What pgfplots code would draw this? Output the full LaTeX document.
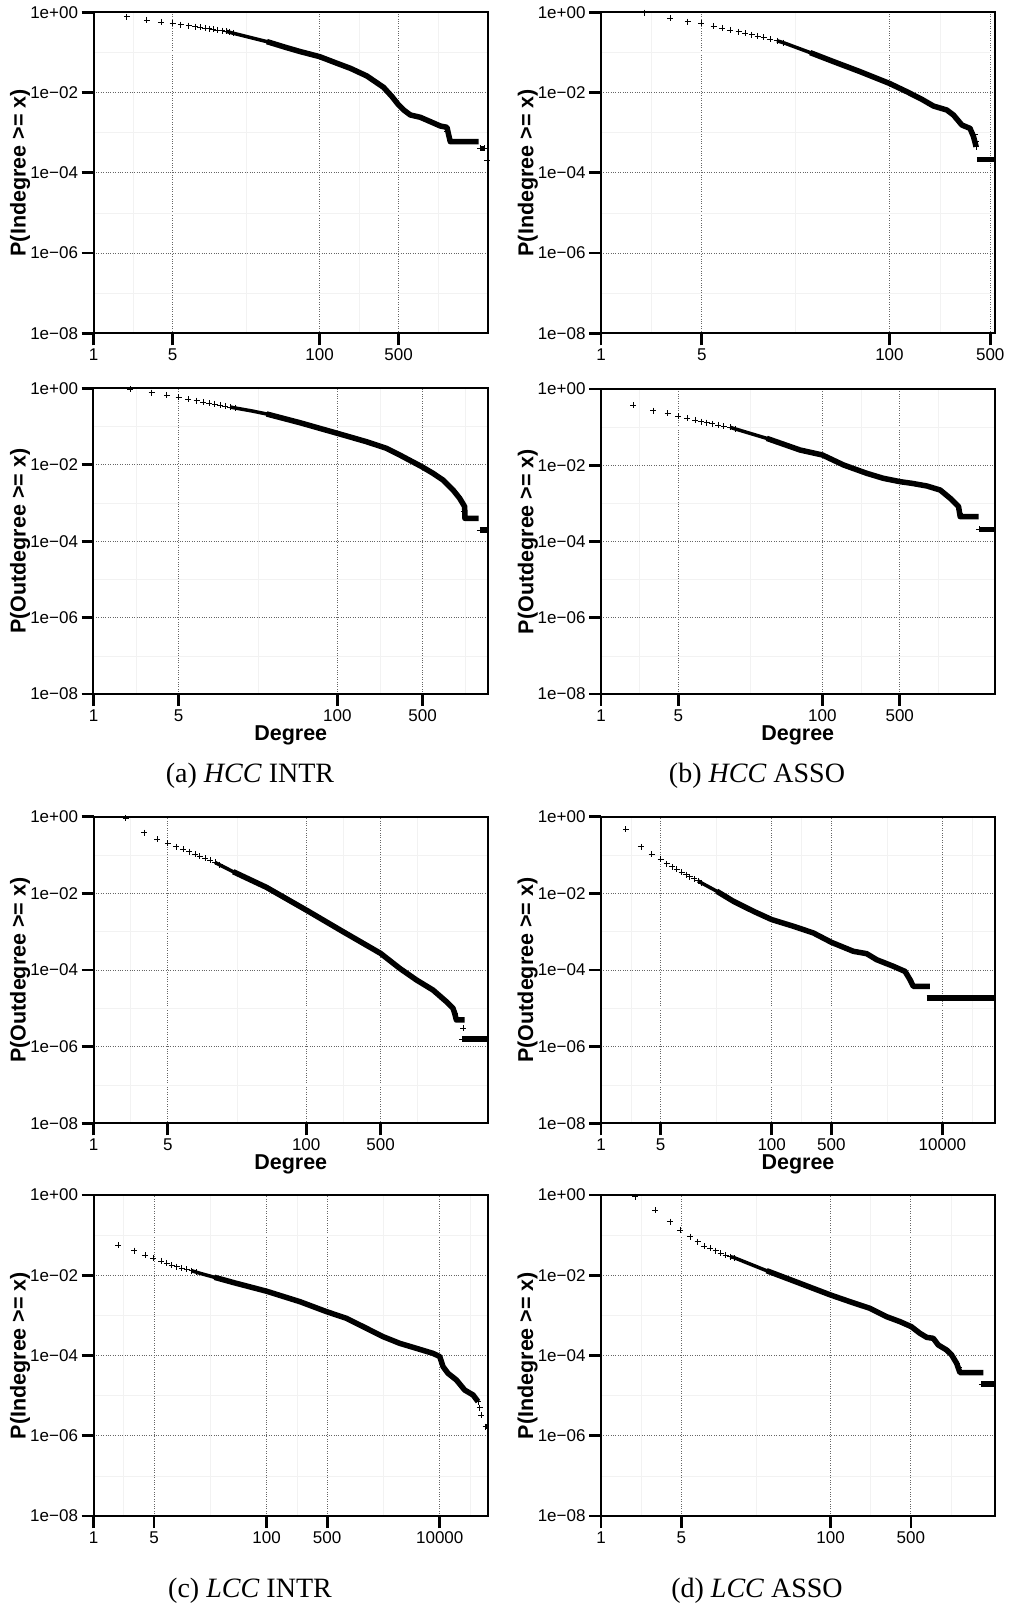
\documentclass[border=0pt]{standalone}
\usepackage{pgfplots}
\pgfplotsset{compat=1.18}
\usepackage{fontspec}
\setmainfont{Liberation Sans}
\newfontfamily\capfont{Liberation Serif}
\newcommand\tickfont{\fontsize{17}{19}\selectfont}
\newcommand\labfont{\fontsize{21.5}{24}\selectfont\bfseries}
\newcommand\cfont{\capfont\fontsize{28}{31}\selectfont}

\pgfplotsset{
  dgpanel/.style={
    scale only axis,
    xmin=1, ymin=1e-8, ymax=1,
    ytick={1,1e-2,1e-4,1e-6,1e-8},
    yticklabels={1e+00,1e−02,1e−04,1e−06,1e−08},
    minor ytick={1e-1,1e-3,1e-5,1e-7},
    tick align=outside,
    xtick pos=left, ytick pos=left,
    major tick length=12pt,
    minor tick length=0pt,
    tick style={line width=2.8pt, black},
    major tick style={line width=2.8pt, black},
    axis line style={line width=2pt, black},
    grid=both,
    major grid style={dotted, line width=0.9pt, black!60},
    minor grid style={line width=0.6pt, black!5},
    ticklabel style={font=\tickfont},
    ylabel style={font=\labfont, at={(axis description cs:-0.186,0.5)}, anchor=center},
    xlabel style={font=\labfont, at={(axis description cs:0.5,-0.134)}, anchor=center},
  },
  dgsparse/.style={only marks, mark=+, mark size=3pt, black, mark options={line width=0.9pt}},
  dgearly/.style={no marks, black, line width=3.5pt, line join=round},
  dgdense/.style={no marks, black, line width=5.5pt, line join=round},
}

\begin{document}
\begin{tikzpicture}
\useasboundingbox (0,0) rectangle (1009pt,-1606pt);

% ---------- (a) top: HCC INTR indegree
\begin{loglogaxis}[dgpanel, at={(93.5pt,-333.3pt)}, anchor=south west, width=394.5pt, height=321pt,
  xmax=3090, xtick={1,5,100,500}, xticklabels={1,5,100,500},
  minor xtick={2.236,22.36,223.6,1118}, ylabel={P(Indegree >= x)}]
\addplot[dgsparse] coordinates {(1.97,0.78) (2.96,0.644) (3.97,0.574) (5,0.532) (5.93,0.493) (6.98,0.466) (7.94,0.44) (8.79,0.423) (9.73,0.407) (10.6,0.392) (11.5,0.377) (12.5,0.363) (13.7,0.349) (14.9,0.336) (16.1,0.322) (17.3,0.306)};
\addplot[dgearly] coordinates {(14.9,0.336) (17.3,0.3) (25,0.232) (34.2,0.186) (50,0.134)};
\addplot[dgdense] coordinates {(34.2,0.186) (50,0.134) (67.4,0.105) (100,0.0786) (140,0.0547) (187,0.0403) (262,0.0259) (368,0.0135) (437,0.00794) (500,0.00491) (560,0.0036) (634,0.00277) (778,0.00242) (953,0.00189) (1169,0.00147) (1340,0.00136) (1387,0.00088) (1433,0.000599) (2553,0.000599)};
\addplot[dgdense] coordinates {(2642,0.000408) (2866,0.000408)};
\addplot[dgsparse] coordinates {(1345,0.0011) (2642,0.000408) (2866,0.000408) (3027,0.000201)};
\end{loglogaxis}

% ---------- (b) top: HCC ASSO indegree
\begin{loglogaxis}[dgpanel, at={(601pt,-333.3pt)}, anchor=south west, width=393.5pt, height=321pt,
  xmax=535, xtick={1,5,100,500}, xticklabels={1,5,100,500},
  minor xtick={2.236,22.36,223.6}, ylabel={P(Indegree >= x)}]
\addplot[dgsparse] coordinates {(1.99,0.975) (3.02,0.708) (4.0,0.585) (4.96,0.532) (6.04,0.456) (6.9,0.407) (7.87,0.363) (9,0.33) (10,0.299) (11.1,0.277) (12.2,0.257) (13.4,0.238) (14.9,0.216) (16.6,0.196) (18.4,0.176)};
\addplot[dgearly] coordinates {(16.6,0.196) (18.9,0.169) (28.2,0.099) (41,0.0589)};
\addplot[dgdense] coordinates {(28.2,0.099) (41,0.0589) (62.7,0.0331) (100,0.0169) (132,0.0105) (168,0.00676) (202,0.00461) (250,0.00367) (278,0.00275) (318,0.00155) (362,0.00128) (383,0.00079) (399,0.000447)};
\addplot[dgdense] coordinates {(404,0.000216) (545,0.000216)};
\addplot[dgsparse] coordinates {(390,0.0009) (396,0.0006) (399,0.000447)};
\end{loglogaxis}

% ---------- (a) bottom: HCC INTR outdegree
\begin{loglogaxis}[dgpanel, at={(93.5pt,-694pt)}, anchor=south west, width=394.5pt, height=305.7pt,
  xmax=1722, xtick={1,5,100,500}, xticklabels={1,5,100,500},
  minor xtick={2.236,22.36,223.6,1118}, ylabel={P(Outdegree >= x)}, xlabel={Degree}]
\addplot[dgsparse] coordinates {(2,0.94) (3,0.77) (4,0.669) (5,0.581) (6,0.515) (7.03,0.475) (7.96,0.439) (8.9,0.405) (9.9,0.389) (10.9,0.366) (12,0.345) (13.2,0.325) (14.5,0.31)};
\addplot[dgearly] coordinates {(13.2,0.325) (14,0.312) (20,0.255) (26.3,0.213) (49.3,0.126)};
\addplot[dgdense] coordinates {(26.3,0.213) (49.3,0.126) (100,0.0664) (173,0.0402) (253,0.0269) (325,0.018) (493,0.0089) (610,0.00596) (736,0.00398) (890,0.00218) (1009,0.00132) (1109,0.000798) (1112,0.000395) (1440,0.000395)};
\addplot[dgdense] coordinates {(1480,0.000195) (1760,0.000195)};
\addplot[dgsparse] coordinates {(1100,0.0006) (1480,0.000195)};
\end{loglogaxis}

% ---------- (b) bottom: HCC ASSO outdegree
\begin{loglogaxis}[dgpanel, at={(601pt,-694pt)}, anchor=south west, width=393.5pt, height=305pt,
  xmax=3590, xtick={1,5,100,500}, xticklabels={1,5,100,500},
  minor xtick={2.236,22.36,223.6,1118}, ylabel={P(Outdegree >= x)}, xlabel={Degree}]
\addplot[dgsparse] coordinates {(1.96,0.38) (2.97,0.27) (4,0.23) (5,0.196) (6.03,0.17) (7.07,0.154) (8,0.139) (9,0.131) (10.1,0.123) (11.5,0.114) (12.9,0.107) (14.7,0.0988) (16.5,0.09)};
\addplot[dgearly] coordinates {(14.7,0.0988) (15.7,0.093) (31.4,0.0508) (62.9,0.0251)};
\addplot[dgdense] coordinates {(31.4,0.0508) (62.9,0.0251) (100,0.0186) (155,0.0102) (252,0.00614) (356,0.00454) (504,0.00371) (643,0.00336) (879,0.00286) (1160,0.00224) (1428,0.00136) (1700,0.00082) (1758,0.000449) (2574,0.000449)};
\addplot[dgdense] coordinates {(2600,0.000209) (3700,0.000209)};
\addplot[dgsparse] coordinates {(1720,0.0007) (1750,0.00055) (2600,0.000209)};
\end{loglogaxis}

% ---------- (c) top: LCC INTR outdegree
\begin{loglogaxis}[dgpanel, at={(93.5pt,-1123.3pt)}, anchor=south west, width=394.5pt, height=306.6pt,
  xmax=5117, xtick={1,5,100,500}, xticklabels={1,5,100,500},
  minor xtick={2.236,22.36,223.6,1118}, ylabel={P(Outdegree >= x)}, xlabel={Degree}]
\addplot[dgsparse] coordinates {(2,0.92) (2.99,0.383) (3.99,0.256) (5,0.201) (5.97,0.165) (7,0.141) (7.96,0.122) (9,0.106) (10,0.0942) (11.2,0.0835) (12.5,0.0741) (13.9,0.0644) (15.3,0.056)};
\addplot[dgearly] coordinates {(13.9,0.0644) (14.4,0.0606) (20.6,0.0367) (42.4,0.0143)};
\addplot[dgdense] coordinates {(20.6,0.0367) (42.4,0.0143) (100,0.00367) (222,0.001) (500,0.000272) (759,0.00011) (1087,5.5e-5) (1557,3.0e-5) (2080,1.49e-5) (2400,1.0e-5) (2490,7.4e-6) (2580,4.97e-6) (3090,4.97e-6)};
\addplot[dgdense] coordinates {(2940,1.58e-6) (5300,1.58e-6)};
\addplot[dgsparse] coordinates {(2400,1.0e-5) (2490,7.4e-6) (2980,3.0e-6) (2940,1.58e-6)};
\end{loglogaxis}

% ---------- (d) top: LCC ASSO outdegree
\begin{loglogaxis}[dgpanel, at={(601pt,-1123.3pt)}, anchor=south west, width=394pt, height=306.6pt,
  xmax=41400, xtick={1,5,100,500,10000}, xticklabels={1,5,100,500,10000},
  minor xtick={2.236,22.36,223.6,2236,22360}, ylabel={P(Outdegree >= x)}, xlabel={Degree}]
\addplot[dgsparse] coordinates {(1.96,0.467) (2.94,0.164) (3.92,0.104) (5,0.0767) (5.88,0.059) (6.85,0.0493) (7.7,0.042) (8.8,0.0357) (9.9,0.031) (11,0.027) (12.3,0.0239) (13.7,0.0212) (15.2,0.0187)};
\addplot[dgearly] coordinates {(13.7,0.0212) (14.5,0.0196) (22.7,0.0114) (35.5,0.00624)};
\addplot[dgdense] coordinates {(22.7,0.0114) (35.5,0.00624) (61,0.00342) (100,0.00207) (179,0.00139) (308,0.000927) (500,0.000529) (905,0.000308) (1298,0.000267) (1698,0.000186) (2666,0.000125) (3653,9.2e-5) (4180,5.6e-5) (4570,3.74e-5) (7160,3.74e-5)};
\addplot[dgdense] coordinates {(6550,1.85e-5) (43000,1.85e-5)};
\end{loglogaxis}

% ---------- (c) bottom: LCC INTR indegree
\begin{loglogaxis}[dgpanel, at={(93.5pt,-1516pt)}, anchor=south west, width=394.5pt, height=321pt,
  xmax=36100, xtick={1,5,100,500,10000}, xticklabels={1,5,100,500,10000},
  minor xtick={2.236,22.36,223.6,2236,22360}, ylabel={P(Indegree >= x)}]
\addplot[dgsparse] coordinates {(1.94,0.0568) (2.97,0.041) (3.95,0.032) (4.92,0.0264) (6.04,0.0227) (7,0.0198) (8,0.018) (9.2,0.0164) (10.5,0.0152) (11.9,0.0141) (13.6,0.013) (15.3,0.012)};
\addplot[dgearly] coordinates {(13.6,0.013) (17,0.0112) (41.2,0.0066)};
\addplot[dgdense] coordinates {(25,0.0089) (41.2,0.0066) (100,0.0040) (242,0.0022) (492,0.00124) (837,0.000845) (1426,0.000476) (2218,0.000295) (3453,0.000201) (5380,0.000151) (8380,0.000113) (10000,9.4e-5) (10920,5.28e-5) (12470,3.6e-5) (15570,2.46e-5) (19410,1.38e-5) (24250,1.04e-5) (27700,7.1e-6)};
\addplot[dgdense] coordinates {(33600,1.69e-6) (37000,1.69e-6)};
\addplot[dgsparse] coordinates {(27700,7.1e-6) (29000,5.0e-6) (30270,3.3e-6) (33960,1.69e-6)};
\end{loglogaxis}

% ---------- (d) bottom: LCC ASSO indegree
\begin{loglogaxis}[dgpanel, at={(601pt,-1516pt)}, anchor=south west, width=394pt, height=321pt,
  xmax=2700, xtick={1,5,100,500}, xticklabels={1,5,100,500},
  minor xtick={2.236,22.36,223.6,1118}, ylabel={P(Indegree >= x)}]
\addplot[dgsparse] coordinates {(1.98,0.91) (2.95,0.423) (3.99,0.217) (4.91,0.134) (5.96,0.0916) (6.95,0.0688) (7.89,0.0536) (8.9,0.0469) (9.97,0.041) (11,0.0352) (12.2,0.0314) (13.3,0.029) (14.6,0.0265)};
\addplot[dgearly] coordinates {(13.3,0.029) (14.2,0.028) (27.7,0.013) (54.1,0.00629)};
\addplot[dgdense] coordinates {(27.7,0.013) (54.1,0.00629) (100,0.00322) (147,0.0022) (220,0.0015) (307,0.000929) (402,0.000698) (504,0.000524) (600,0.000357) (686,0.000284) (783,0.000268) (866,0.000183) (1024,0.000137) (1132,0.000103) (1251,6.4e-5) (1337,3.74e-5) (2135,3.74e-5)};
\addplot[dgdense] coordinates {(2070,1.95e-5) (2800,1.95e-5)};
\addplot[dgsparse] coordinates {(1251,6.4e-5) (1300,5.0e-5) (2070,1.95e-5)};
\end{loglogaxis}

% ---------- captions
\node[anchor=base, font=\cfont] at (250pt,-782pt) {(a) \textit{HCC} INTR};
\node[anchor=base, font=\cfont] at (757pt,-782pt) {(b) \textit{HCC} ASSO};
\node[anchor=base, font=\cfont] at (250pt,-1597pt) {(c) \textit{LCC} INTR};
\node[anchor=base, font=\cfont] at (757pt,-1597pt) {(d) \textit{LCC} ASSO};
\end{tikzpicture}
\end{document}
